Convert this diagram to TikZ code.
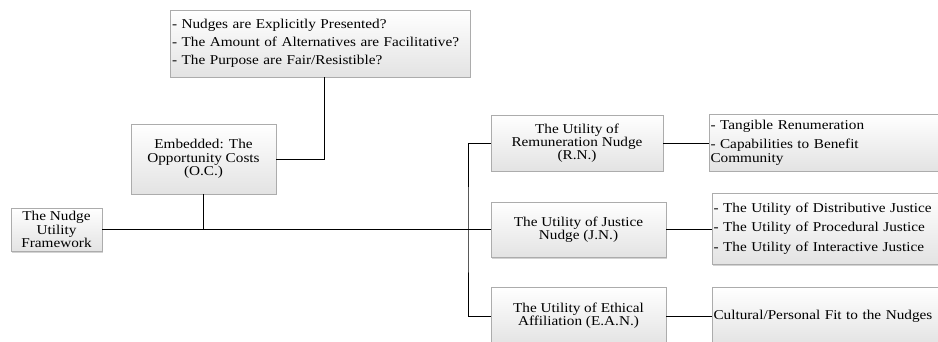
\documentclass[tikz,border=0pt]{standalone}
\usepackage{fontspec}
\setmainfont{Liberation Serif}[FakeStretch=1.13]
\usetikzlibrary{shadows}
\begin{document}
\begin{tikzpicture}[x=1pt,y=-1pt,
  box/.style={draw=gray!65, line width=0.6pt, top color=white, bottom color=gray!22,
    drop shadow={shadow xshift=1.2pt, shadow yshift=-1.5pt, opacity=0.35, fill=gray},
    inner sep=0pt, align=center, font=\fontsize{13.5}{13.3}\selectfont},
  lbox/.style={box, align=left, inner xsep=1.5pt},
  conn/.style={draw=black, line width=0.9pt}]
\path[use as bounding box] (0,0) rectangle (938,342);
\clip (0,0) rectangle (938,342);
\node[lbox, minimum width=300pt, minimum height=67pt, text width=296pt] (top) at (320,43.5)
  {- Nudges are Explicitly Presented?\\[4.8pt] - The Amount of Alternatives are Facilitative?\\[4.8pt] - The Purpose are Fair/Resistible?};
\node[box, minimum width=145pt, minimum height=70pt] (oc) at (203.5,159) {Embedded: The\\ Opportunity Costs\\ (O.C.)};
\node[box, minimum width=91pt, minimum height=43pt] (nudge) at (56.5,229.5) {The Nudge\\ Utility\\ Framework};
\node[box, minimum width=172pt, minimum height=56pt] (rn) at (577,143) {The Utility of\\ Remuneration Nudge\\ (R.N.)};
\node[box, minimum width=175pt, minimum height=55pt] (jn) at (578.5,229.5) {The Utility of Justice\\ Nudge (J.N.)};
\node[box, minimum width=175pt, minimum height=58pt] (ean) at (578.5,316) {The Utility of Ethical\\ Affiliation (E.A.N.)};
\node[lbox, minimum width=251pt, minimum height=57pt, text width=248pt] (rnd) at (834.5,142.5)
  {- Tangible Renumeration\\[6.5pt] - Capabilities to Benefit\\ Community};
\node[lbox, minimum width=248pt, minimum height=71pt, text width=245pt] (jnd) at (836,228.5)
  {- The Utility of Distributive Justice\\[6pt] - The Utility of Procedural Justice\\[6pt] - The Utility of Interactive Justice};
\node[lbox, minimum width=248pt, minimum height=58pt, text width=245pt] (eand) at (836,316)
  {Cultural/Personal Fit to the Nudges};
\coordinate (sp) at (468,229.5);
\draw[conn] (nudge.east) -- (sp);
\draw[conn] (oc.south) -- (oc.south |- sp);
\draw[conn] (oc.east) -| ([xshift=4pt]top.south);
\draw[conn] (rn.west) -| (sp) |- (ean.west);
\draw[conn] (sp) -- (jn.west);
\draw[conn] (rn.east) -- (rn.east -| rnd.west);
\draw[conn] (jn.east) -- (jn.east -| jnd.west);
\draw[conn] (ean.east) -- (ean.east -| eand.west);
\end{tikzpicture}
\end{document}
